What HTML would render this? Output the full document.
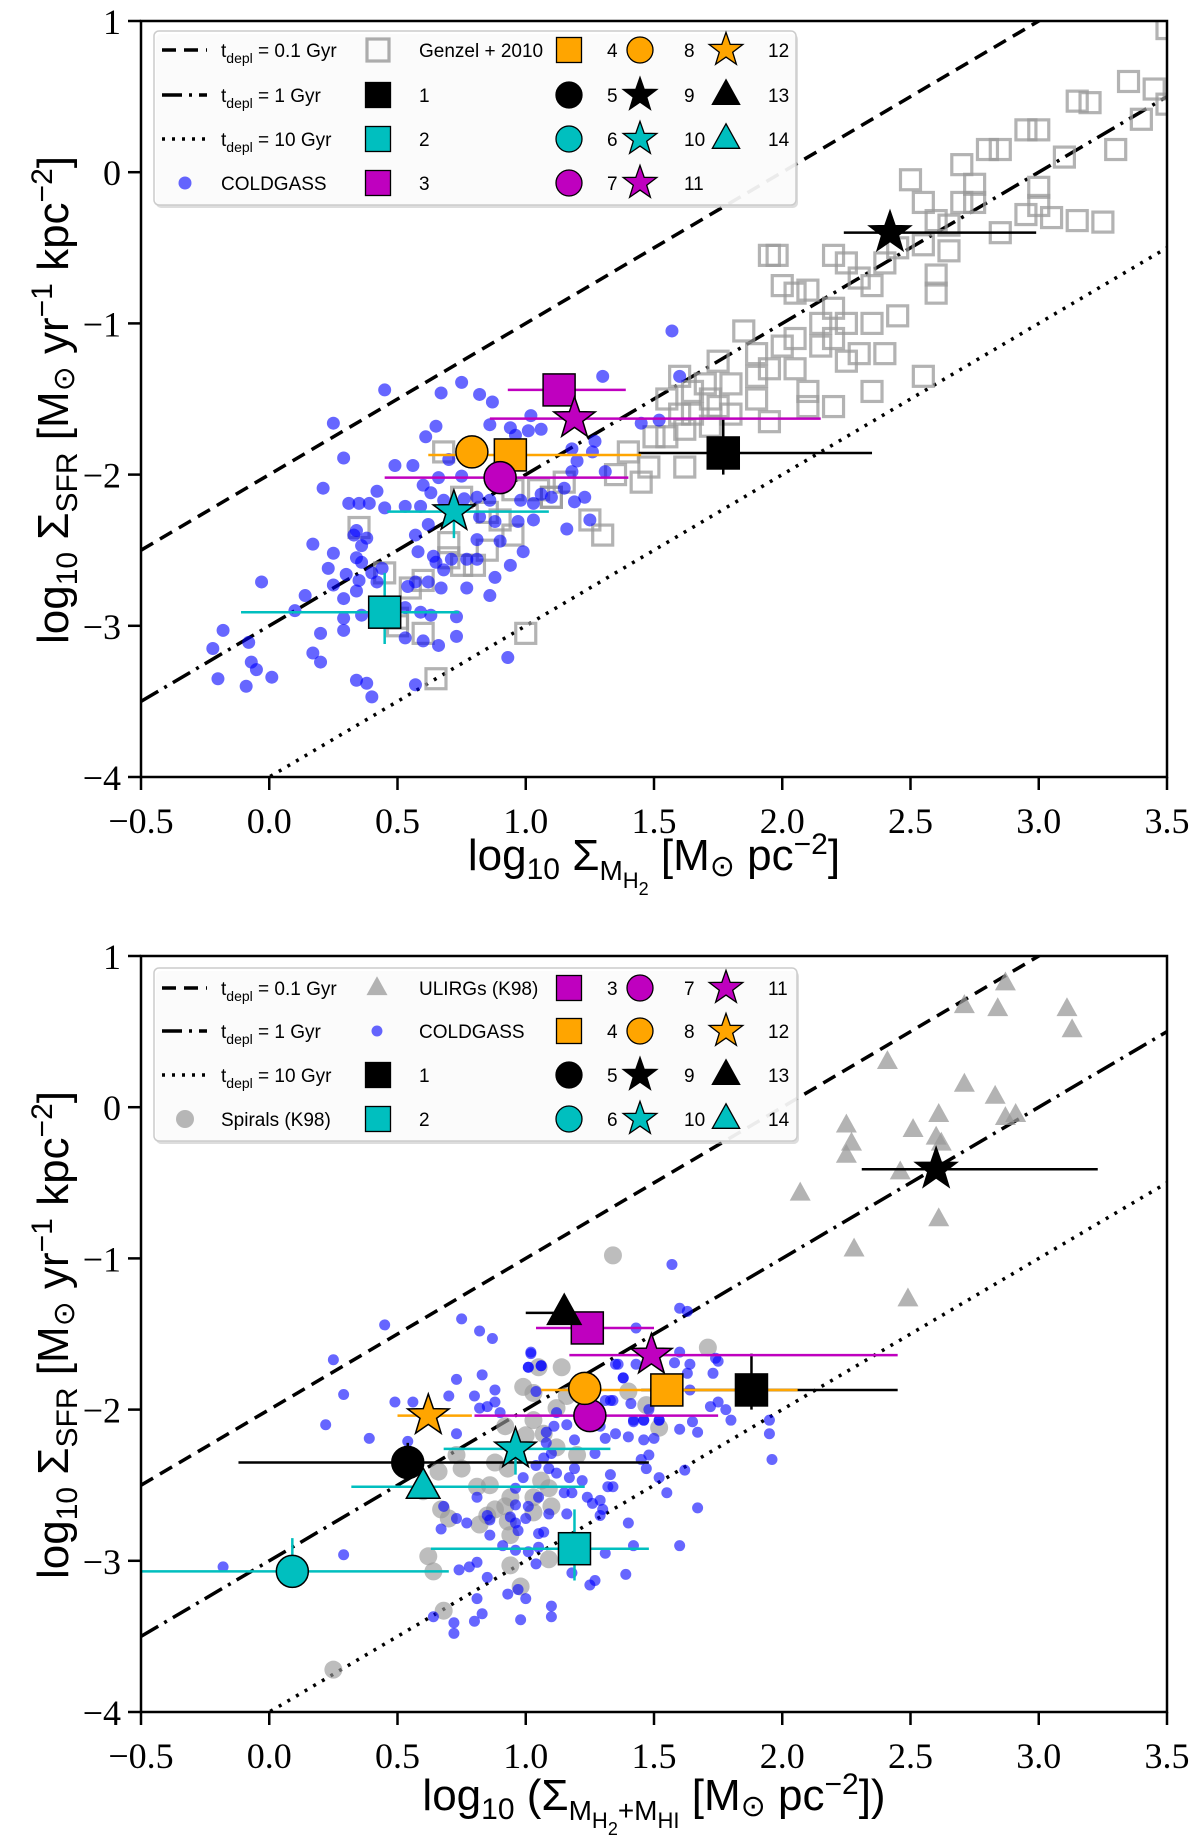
<!DOCTYPE html>
<html><head><meta charset="utf-8"><style>
html,body{margin:0;padding:0;background:#fff;}
svg{display:block;}
.tick{font-family:"Liberation Serif",serif;font-size:36px;fill:#000;}
.lab{font-family:"Liberation Sans",sans-serif;font-size:44px;fill:#000;}
.leg{font-family:"Liberation Sans",sans-serif;font-size:19px;fill:#000;}
</style></head><body>
<svg id="fig" width="1200" height="1842" viewBox="0 0 1200 1842" xmlns="http://www.w3.org/2000/svg">
<defs>
<clipPath id="clipTop"><rect x="141" y="21" width="1026" height="756"/></clipPath>
<clipPath id="clipBot"><rect x="141" y="956" width="1026" height="756"/></clipPath>
</defs>
</svg>
<script>
// ---------- data: top panel ----------
const topGenzelX=[3.5,3.35,3.45,3.5,3.15,3.2,3.4,2.95,3.0,3.1,2.8,2.85,3.3,2.7,2.75,3.0,2.5,2.55,2.7,2.75,3.0,2.95,3.05,2.6,2.65,3.15,2.85,3.25,2.45,2.55,2.65,2.4,2.2,2.25,2.05,2.1,2.3,2.35,2.6,2.6,2.2,2.25,2.35,2.45,1.95,1.98,2.0,2.15,2.05,2.15,2.2,1.85,2.0,1.9,2.05,2.3,2.25,2.4,2.35,2.55,1.95,1.75,1.6,1.7,1.8,1.9,2.1,2.2,2.1,1.65,1.72,1.55,1.6,1.65,1.75,1.8,1.9,1.95,1.5,1.55,1.62,1.72,1.48,1.62,1.45,1.35,1.25,1.3,1.1,1.0,0.9,0.95,0.8,0.85,0.7,0.75,0.6,0.55,0.6,0.65,0.5,0.5,0.35,0.68,0.95,1.05,0.85,0.75,1.15,1.4,1.1,0.7,0.45];
const topGenzelY=[0.95,0.6,0.55,0.45,0.47,0.46,0.35,0.28,0.28,0.1,0.15,0.15,0.15,0.05,-0.08,-0.1,-0.05,-0.2,-0.2,-0.2,-0.22,-0.28,-0.3,-0.32,-0.35,-0.32,-0.4,-0.33,-0.5,-0.48,-0.52,-0.6,-0.55,-0.6,-0.8,-0.78,-0.7,-0.75,-0.68,-0.8,-0.9,-1.0,-1.0,-0.95,-0.55,-0.55,-0.75,-1.0,-1.1,-1.15,-1.1,-1.05,-1.15,-1.2,-1.3,-1.2,-1.25,-1.2,-1.45,-1.35,-1.3,-1.25,-1.35,-1.4,-1.4,-1.35,-1.45,-1.55,-1.55,-1.45,-1.5,-1.5,-1.6,-1.6,-1.55,-1.6,-1.5,-1.65,-1.75,-1.75,-1.7,-1.68,-1.95,-1.95,-2.05,-2.0,-2.3,-2.4,-2.15,-3.05,-2.3,-2.4,-2.6,-2.5,-2.55,-2.6,-2.7,-2.75,-3.05,-3.35,-2.95,-3.0,-2.35,-1.85,-2.1,-2.1,-2.25,-2.15,-2.05,-1.85,-2.15,-2.45,-2.65];
const topColdX=[0.45,0.75,0.67,0.82,0.87,1.30,0.25,0.65,0.61,0.86,0.94,1.01,1.06,1.02,0.96,0.29,0.49,0.56,0.70,0.66,0.75,1.27,1.18,1.26,1.20,1.18,1.31,1.45,0.21,0.42,0.31,0.35,0.39,0.45,0.53,0.59,0.60,0.63,0.68,0.76,0.81,0.86,0.98,1.03,1.06,1.10,1.15,1.19,1.23,0.82,0.88,0.97,1.03,1.25,1.16,0.34,0.33,0.38,0.36,0.17,0.25,0.57,0.62,0.81,0.90,0.99,0.23,0.34,0.36,0.44,0.30,0.40,0.35,0.42,0.25,0.14,0.29,0.34,0.68,0.71,0.77,0.81,0.94,0.88,0.77,0.86,0.57,0.62,0.67,0.54,0.58,0.64,0.65,-0.03,0.10,0.29,0.36,0.53,0.59,0.63,0.73,-0.18,-0.08,-0.22,0.20,0.29,0.53,0.60,0.66,0.73,0.17,0.20,-0.07,-0.05,-0.20,0.01,-0.09,0.34,0.38,0.40,0.57,0.93,1.57,1.60,1.52];
const topColdY=[-1.44,-1.39,-1.46,-1.47,-1.52,-1.35,-1.66,-1.68,-1.75,-1.67,-1.69,-1.71,-1.70,-1.61,-1.74,-1.89,-1.94,-1.94,-1.90,-2.02,-2.01,-1.78,-1.83,-1.85,-1.91,-1.98,-1.98,-1.66,-2.09,-2.11,-2.19,-2.19,-2.19,-2.22,-2.21,-2.21,-2.07,-2.12,-2.17,-2.16,-2.15,-2.17,-2.17,-2.19,-2.13,-2.15,-2.09,-2.18,-2.15,-2.28,-2.31,-2.31,-2.30,-2.30,-2.36,-2.37,-2.40,-2.42,-2.47,-2.46,-2.52,-2.40,-2.33,-2.43,-2.44,-2.51,-2.62,-2.55,-2.58,-2.62,-2.66,-2.65,-2.70,-2.71,-2.73,-2.80,-2.82,-2.77,-2.63,-2.56,-2.56,-2.56,-2.60,-2.68,-2.75,-2.80,-2.71,-2.71,-2.75,-2.74,-2.51,-2.54,-2.58,-2.71,-2.90,-2.95,-2.93,-2.88,-2.91,-2.93,-2.94,-3.03,-3.11,-3.15,-3.05,-3.03,-3.08,-3.10,-3.13,-3.07,-3.18,-3.24,-3.24,-3.29,-3.35,-3.34,-3.40,-3.36,-3.38,-3.47,-3.39,-3.21,-1.05,-1.35,-1.64];
const topBigId=[1,2,3,4,7,8,9,10,11];
const topBigX=[1.77,0.45,1.13,0.94,0.90,0.79,2.42,0.72,1.19];
const topBigY=[-1.857,-2.91,-1.44,-1.87,-2.02,-1.85,-0.40,-2.245,-1.63];
const topBigXlo=[1.44,-0.11,0.93,0.62,0.45,null,2.24,0.46,0.86];
const topBigXhi=[2.35,0.74,1.39,1.45,1.40,null,2.99,1.09,2.15];
const topBigYlo=[-2.0,-3.12,null,null,null,null,null,-2.42,null];
const topBigYhi=[-1.63,-2.65,null,null,null,null,null,null,null];
// ---------- data: bottom panel ----------
const botUlirgX=[2.87,2.84,3.11,3.13,2.71,2.83,2.71,2.87,2.91,2.41,2.61,2.6,2.62,2.51,2.25,2.25,2.27,2.46,2.61,2.07,2.28,2.49];
const botUlirgY=[0.82,0.65,0.65,0.51,0.67,0.07,0.15,-0.07,-0.05,0.30,-0.05,-0.2,-0.24,-0.15,-0.12,-0.32,-0.24,-0.43,-0.74,-0.57,-0.94,-1.27];
const botSpiralX=[1.34,1.14,1.05,0.99,1.03,1.16,1.40,1.12,1.03,0.92,1.00,1.07,1.12,1.20,0.73,0.75,0.66,0.88,0.93,0.81,0.86,1.06,1.09,1.03,0.94,0.92,0.88,0.85,1.10,1.03,0.67,0.70,0.82,0.93,0.94,0.62,0.64,0.94,1.09,0.98,0.68,0.60,1.71,1.52,1.47,0.25];
const botSpiralY=[-0.98,-1.72,-1.72,-1.85,-1.89,-1.91,-1.88,-1.99,-2.07,-2.11,-2.17,-2.16,-2.25,-2.30,-2.30,-2.39,-2.41,-2.35,-2.39,-2.51,-2.50,-2.47,-2.52,-2.58,-2.58,-2.64,-2.66,-2.70,-2.64,-2.68,-2.66,-2.72,-2.76,-2.74,-2.83,-2.97,-3.07,-3.03,-2.99,-3.17,-3.33,-2.54,-1.59,-2.12,-1.97,-3.72];
const botColdX=[0.45,0.75,0.82,0.87,0.25,0.29,0.22,0.39,0.49,0.56,0.70,0.73,0.83,0.80,0.88,0.88,0.85,0.82,0.90,0.73,0.54,1.02,1.01,1.06,1.04,1.43,1.36,1.38,1.33,1.12,1.11,1.16,1.19,1.08,1.10,1.07,1.04,1.09,1.12,1.19,1.17,1.22,1.27,1.33,1.32,1.34,1.15,1.18,1.24,1.29,1.26,1.30,1.29,1.16,1.09,1.05,1.01,0.99,0.96,0.96,0.94,0.96,0.97,1.00,0.86,0.85,0.86,0.81,0.73,0.77,0.67,0.68,0.81,0.78,0.74,0.85,0.91,0.96,1.01,1.05,1.05,1.07,1.04,1.18,1.25,1.27,1.39,1.31,1.42,1.40,0.93,0.97,1.00,0.81,1.10,1.10,0.98,0.83,0.80,0.72,0.72,0.64,0.29,-0.18,1.45,1.47,1.48,1.40,1.42,1.46,1.46,1.50,1.52,1.35,1.31,1.29,1.31,1.08,1.57,1.60,1.63,1.02,1.06,1.01,1.35,1.43,1.58,1.60,1.64,1.63,1.73,1.74,1.75,1.38,1.64,1.34,1.41,1.48,1.75,1.72,1.78,1.80,1.95,1.95,1.42,1.46,1.52,1.60,1.65,1.67,1.96,1.60,1.67,1.52,1.55,1.62];
const botColdY=[-1.44,-1.40,-1.48,-1.53,-1.67,-1.90,-2.10,-2.19,-1.95,-1.95,-1.91,-1.80,-1.77,-1.91,-1.87,-1.95,-1.98,-1.99,-2.02,-2.16,-2.21,-1.62,-1.72,-1.71,-1.88,-1.46,-1.70,-1.79,-1.94,-2.02,-2.11,-2.10,-2.20,-2.22,-2.29,-2.32,-2.37,-2.39,-2.42,-2.39,-2.45,-2.47,-2.29,-2.43,-2.51,-2.51,-2.55,-2.55,-2.58,-2.60,-2.62,-2.66,-2.70,-2.69,-2.69,-2.58,-2.64,-2.45,-2.52,-2.63,-2.71,-2.75,-2.80,-2.72,-2.73,-2.70,-2.83,-2.58,-2.72,-2.75,-2.79,-2.64,-3.01,-3.04,-3.06,-3.11,-2.90,-2.93,-2.94,-2.91,-2.82,-2.81,-3.02,-3.08,-3.16,-3.13,-3.09,-2.95,-2.90,-2.75,-3.22,-3.19,-3.25,-3.25,-3.30,-3.37,-3.39,-3.35,-3.40,-3.41,-3.48,-3.37,-2.96,-3.04,-2.33,-2.39,-2.30,-2.18,-2.08,-2.07,-2.20,-2.19,-2.07,-2.16,-2.19,-2.11,-1.94,-2.15,-1.04,-1.33,-1.35,-1.63,-1.71,-1.72,-1.70,-1.70,-1.69,-1.62,-1.70,-1.76,-1.76,-1.66,-1.68,-1.79,-1.87,-1.94,-1.96,-2.00,-1.95,-1.98,-2.00,-2.07,-2.07,-2.16,-2.07,-2.07,-2.07,-2.13,-2.08,-2.15,-2.33,-2.90,-2.65,-2.45,-2.55,-2.40];
const botBigId=[1,2,3,4,5,6,7,8,9,10,11,12,13,14];
const botBigX=[1.88,1.19,1.24,1.55,0.54,0.09,1.25,1.23,2.60,0.96,1.49,0.62,1.15,0.60];
const botBigY=[-1.87,-2.92,-1.46,-1.87,-2.35,-3.07,-2.04,-1.86,-0.41,-2.26,-1.64,-2.04,-1.36,-2.51];
const botBigXlo=[1.45,0.63,1.04,1.06,-0.12,-0.5,0.80,null,2.31,0.68,1.17,0.50,1.0,0.32];
const botBigXhi=[2.45,1.48,1.50,2.06,1.48,0.70,1.75,null,3.23,1.33,2.45,0.79,1.15,1.23];
const botBigYlo=[-2.0,-3.13,null,null,null,null,null,null,null,-2.43,null,null,null,null];
const botBigYhi=[-1.63,-2.66,null,null,-2.22,-2.85,null,null,null,null,null,null,null,null];
// ticks
const xTickVals=[-0.5,0,0.5,1,1.5,2,2.5,3,3.5];
const xTickLabels=["\u22120.5","0.0","0.5","1.0","1.5","2.0","2.5","3.0","3.5"];
const yTickVals=[-4,-3,-2,-1,0,1];
const yTickLabels=["\u22124","\u22123","\u22122","\u22121","0","1"];
const deplOffsets=[-2,-3,-4]; // log tdepl lines: y = x + offset

const NS="http://www.w3.org/2000/svg";
const svg=document.getElementById('fig');
function mk(tag,attrs,parent){const e=document.createElementNS(NS,tag);for(const k in attrs)e.setAttribute(k,attrs[k]);(parent||svg).appendChild(e);return e;}
const L=141,R=1167,XMIN=-0.5,XMAX=3.5,YMIN=-4,YMAX=1,H=756;
const X=v=>L+(v-XMIN)/(XMAX-XMIN)*(R-L);
function makeY(top){return v=>top+(YMAX-v)/(YMAX-YMIN)*H;}
const COL={black:'#000',cyan:'#00bfbf',mag:'#bf00bf',org:'#ffa500'};
const BLUE='#0000ff';
function idColor(id){if(id>=13)return [COL.black,COL.cyan][id-13];return [COL.black,COL.cyan,COL.mag,COL.org][(id-1)%4];}
function idShape(id){if(id<=4)return 'sq';if(id<=8)return 'ci';if(id<=12)return 'st';return 'tr';}
function starPts(cx,cy,R){let p=[];for(let i=0;i<10;i++){const r=i%2?R*0.4:R;const a=-Math.PI/2+i*Math.PI/5;p.push((cx+r*Math.cos(a)).toFixed(1)+','+(cy+r*Math.sin(a)).toFixed(1));}return p.join(' ');}
function triPts(cx,cy,s){const h=s*0.9;return `${cx},${cy-h*0.62} ${cx-s/2},${cy+h*0.38} ${cx+s/2},${cy+h*0.38}`;}
function marker(g,shape,cx,cy,size,fill,stroke,sw){
  let e;
  if(shape==='sq')e=mk('rect',{x:cx-size/2,y:cy-size/2,width:size,height:size,fill:fill,stroke:stroke,'stroke-width':sw},g);
  else if(shape==='ci')e=mk('circle',{cx:cx,cy:cy,r:size/2,fill:fill,stroke:stroke,'stroke-width':sw},g);
  else if(shape==='st')e=mk('polygon',{points:starPts(cx,cy,size*0.68),fill:fill,stroke:stroke,'stroke-width':sw},g);
  else e=mk('polygon',{points:triPts(cx,cy,size*1.05),fill:fill,stroke:stroke,'stroke-width':sw},g);
  return e;
}

function panel(name,top,clipId,gen,cold,spir,ulirg,big){
  const Y=makeY(top);
  const g=mk('g',{});
  
  
  const pg=mk('g',{'clip-path':'url(#'+clipId+')'},g);
  
  
  const dash=['14,8','20,7,3,7','3,7'];
  const lnames=['tdepl-0.1gyr-line','tdepl-1gyr-line','tdepl-10gyr-line'];
  deplOffsets.forEach((o,i)=>{
    const ln=mk('line',{x1:X(XMIN),y1:Y(XMIN+o),x2:X(XMAX),y2:Y(XMAX+o),stroke:'#000','stroke-width':3.5,'stroke-dasharray':dash[i]},pg);
    
    
  });
  if(spir){spir[0].forEach((v,i)=>{const c=mk('circle',{cx:X(v),cy:Y(spir[1][i]),r:9,fill:'#999','fill-opacity':0.65},pg);
    
    });}
  if(ulirg){ulirg[0].forEach((v,i)=>{const c=mk('polygon',{points:triPts(X(v),Y(ulirg[1][i]),21),fill:'#999','fill-opacity':0.75},pg);
    
    });}
  if(gen){gen[0].forEach((v,i)=>{const c=mk('rect',{x:X(v)-10,y:Y(gen[1][i])-10,width:20,height:20,fill:'none',stroke:'#999','stroke-opacity':0.75,'stroke-width':3.2},pg);
    
    });}
  cold[0].forEach((v,i)=>{const c=mk('circle',{cx:X(v),cy:Y(cold[1][i]),r:gen?6.5:5.5,fill:BLUE,'fill-opacity':0.6},pg);
    
    });
  big.id.forEach((id,i)=>{
    const col=idColor(id),cx=X(big.x[i]),cy=Y(big.y[i]);
    if(big.xlo[i]!==null){const e=mk('line',{x1:X(big.xlo[i]),y1:cy,x2:X(big.xhi[i]),y2:cy,stroke:col,'stroke-width':2.5},pg);
      
      }
    const ylo=big.ylo[i]!==null?big.ylo[i]:big.y[i],yhi=big.yhi[i]!==null?big.yhi[i]:big.y[i];
    if(ylo!==yhi){const e=mk('line',{x1:cx,y1:Y(ylo),x2:cx,y2:Y(yhi),stroke:col,'stroke-width':2.5},pg);
      
      }
  });
  big.id.forEach((id,i)=>{
    const m=marker(pg,idShape(id),X(big.x[i]),Y(big.y[i]),32,idColor(id),'#000',1.5);
    
    
  });
  const fr=mk('rect',{x:L,y:top,width:R-L,height:H,fill:'none',stroke:'#000','stroke-width':2.5},g);
  
  
  xTickVals.forEach((v,i)=>{
    const t=mk('line',{x1:X(v),y1:top+H,x2:X(v),y2:top+H+13,stroke:'#000','stroke-width':2.5},g);
    
    
    const tx=mk('text',{x:X(v),y:top+H+56,'text-anchor':'middle',class:'tick'},g);
    tx.textContent=xTickLabels[i];
    
    
  });
  yTickVals.forEach((v,i)=>{
    const t=mk('line',{x1:L-13,y1:Y(v),x2:L,y2:Y(v),stroke:'#000','stroke-width':2.5},g);
    
    
    const tx=mk('text',{x:L-20,y:Y(v)+13,'text-anchor':'end',class:'tick'},g);
    tx.textContent=yTickLabels[i];
    
    
  });
  return {g,Y};
}

const topP=panel('top',21,'clipTop',[topGenzelX,topGenzelY],[topColdX,topColdY],null,null,
 {id:topBigId,x:topBigX,y:topBigY,xlo:topBigXlo,xhi:topBigXhi,ylo:topBigYlo,yhi:topBigYhi});
const botP=panel('bottom',956,'clipBot',null,[botColdX,botColdY],[botSpiralX,botSpiralY],[botUlirgX,botUlirgY],
 {id:botBigId,x:botBigX,y:botBigY,xlo:botBigXlo,xhi:botBigXhi,ylo:botBigYlo,yhi:botBigYhi});

function tsp(parent,txt,attrs){const t=mk('tspan',attrs||{},parent);t.textContent=txt;return t;}
function yLabel(cy,name){
  const t=mk('text',{x:0,y:0,class:'lab',transform:`translate(68,${cy}) rotate(-90)`,'text-anchor':'middle'});
  
  
  tsp(t,'log');tsp(t,'10',{dy:9,'font-size':30});tsp(t,' \u03A3',{dy:-9});tsp(t,'SFR',{dy:9,'font-size':30});
  tsp(t,' [M',{dy:-9});tsp(t,'\u2299',{dy:6,'font-size':30});tsp(t,' yr',{dy:-6});tsp(t,'\u22121',{dy:-16,'font-size':30});
  tsp(t,' kpc',{dy:16});tsp(t,'\u22122',{dy:-16,'font-size':30});tsp(t,']',{dy:16});
}
yLabel(400,'top-y-axis-title');
yLabel(1335,'bottom-y-axis-title');
(function(){
  const t=mk('text',{x:654,y:870,class:'lab','text-anchor':'middle'});
  
  
  tsp(t,'log');tsp(t,'10',{dy:9,'font-size':30});tsp(t,' \u03A3',{dy:-9});tsp(t,'M',{dy:10,'font-size':28});tsp(t,'H',{dy:8,'font-size':22});tsp(t,'2',{dy:7,'font-size':18});
  tsp(t,' [M',{dy:-25});tsp(t,'\u2299',{dy:6,'font-size':30});tsp(t,' pc',{dy:-6});tsp(t,'\u22122',{dy:-16,'font-size':30});tsp(t,']',{dy:16});
  const b=mk('text',{x:654,y:1810,class:'lab','text-anchor':'middle'});
  
  
  tsp(b,'log');tsp(b,'10',{dy:9,'font-size':30});tsp(b,' (\u03A3',{dy:-9});tsp(b,'M',{dy:10,'font-size':28});tsp(b,'H',{dy:8,'font-size':22});tsp(b,'2',{dy:7,'font-size':18});
  tsp(b,'+M',{dy:-15,'font-size':28});tsp(b,'HI',{dy:8,'font-size':22});
  tsp(b,' [M',{dy:-18});tsp(b,'\u2299',{dy:6,'font-size':30});tsp(b,' pc',{dy:-6});tsp(b,'\u22122',{dy:-16,'font-size':30});tsp(b,'])',{dy:16});
})();

const colMk=[185,378,569,640,726];
const colTx=[221,419,607,684,768];
function legendBox(x,y,w,h,name){
  const sh=mk('rect',{x:x+2,y:y+3,width:w,height:h,rx:5,fill:'#bbb','fill-opacity':0.5});
  
  
  const r=mk('rect',{x:x,y:y,width:w,height:h,rx:5,fill:'#fff','fill-opacity':0.88,stroke:'#ccc','stroke-width':1.5});
  
  
}
function legLine(row,y,idx){
  const dash=['14,8','20,7,3,7','3,7'];
  const l=mk('line',{x1:162,y1:y,x2:207,y2:y,stroke:'#000','stroke-width':3.5,'stroke-dasharray':dash[idx]});
  
  
  const t=mk('text',{x:colTx[0],y:y+7,class:'leg'});
  
  
  tsp(t,'t');tsp(t,'depl',{dy:6,'font-size':14});tsp(t,' = '+['0.1','1','10'][idx]+' Gyr',{dy:-6});
}
function legText(x,y,s){const t=mk('text',{x:x,y:y+7,class:'leg'});t.textContent=s;
  
  }
function legNum(col,row,rowsY,id){
  const m=marker(svg,idShape(id),colMk[col],rowsY[row],idShape(id)==='sq'?25:26,idColor(id),'#000',1.3);
  
  
  legText(colTx[col],rowsY[row],String(id));
}
legendBox(154,31,642,174,'top-legend');
const tRows=[50,95,139,183];
legLine(0,tRows[0],0);legLine(1,tRows[1],1);legLine(2,tRows[2],2);
(function(){const c=mk('circle',{cx:185,cy:tRows[3],r:6.5,fill:BLUE,'fill-opacity':0.6});

})();
legText(colTx[0],tRows[3],'COLDGASS');
(function(){const r=mk('rect',{x:378-11,y:tRows[0]-11,width:22,height:22,fill:'none',stroke:'#999','stroke-opacity':0.8,'stroke-width':3.2});

})();
legText(colTx[1],tRows[0],'Genzel + 2010');
[[1,1,1],[1,2,2],[1,3,3],[2,0,4],[2,1,5],[2,2,6],[2,3,7],[3,0,8],[3,1,9],[3,2,10],[3,3,11],[4,0,12],[4,1,13],[4,2,14]].forEach(a=>legNum(a[0],a[1],tRows,a[2]));
legendBox(154,968,643,173,'bottom-legend');
const bRows=[988,1031,1075,1119];
legLine(0,bRows[0],0);legLine(1,bRows[1],1);legLine(2,bRows[2],2);
(function(){const c=mk('circle',{cx:185,cy:bRows[3],r:9,fill:'#999','fill-opacity':0.7});


const u=mk('polygon',{points:triPts(377,bRows[0],21),fill:'#999','fill-opacity':0.75});


const d=mk('circle',{cx:377,cy:bRows[1],r:5.5,fill:BLUE,'fill-opacity':0.6});

})();
legText(colTx[0],bRows[3],'Spirals (K98)');
legText(colTx[1],bRows[0],'ULIRGs (K98)');
legText(colTx[1],bRows[1],'COLDGASS');
[[1,2,1],[1,3,2],[2,0,3],[2,1,4],[2,2,5],[2,3,6],[3,0,7],[3,1,8],[3,2,9],[3,3,10],[4,0,11],[4,1,12],[4,2,13],[4,3,14]].forEach(a=>legNum(a[0],a[1],bRows,a[2]));
</script>
</body></html>
